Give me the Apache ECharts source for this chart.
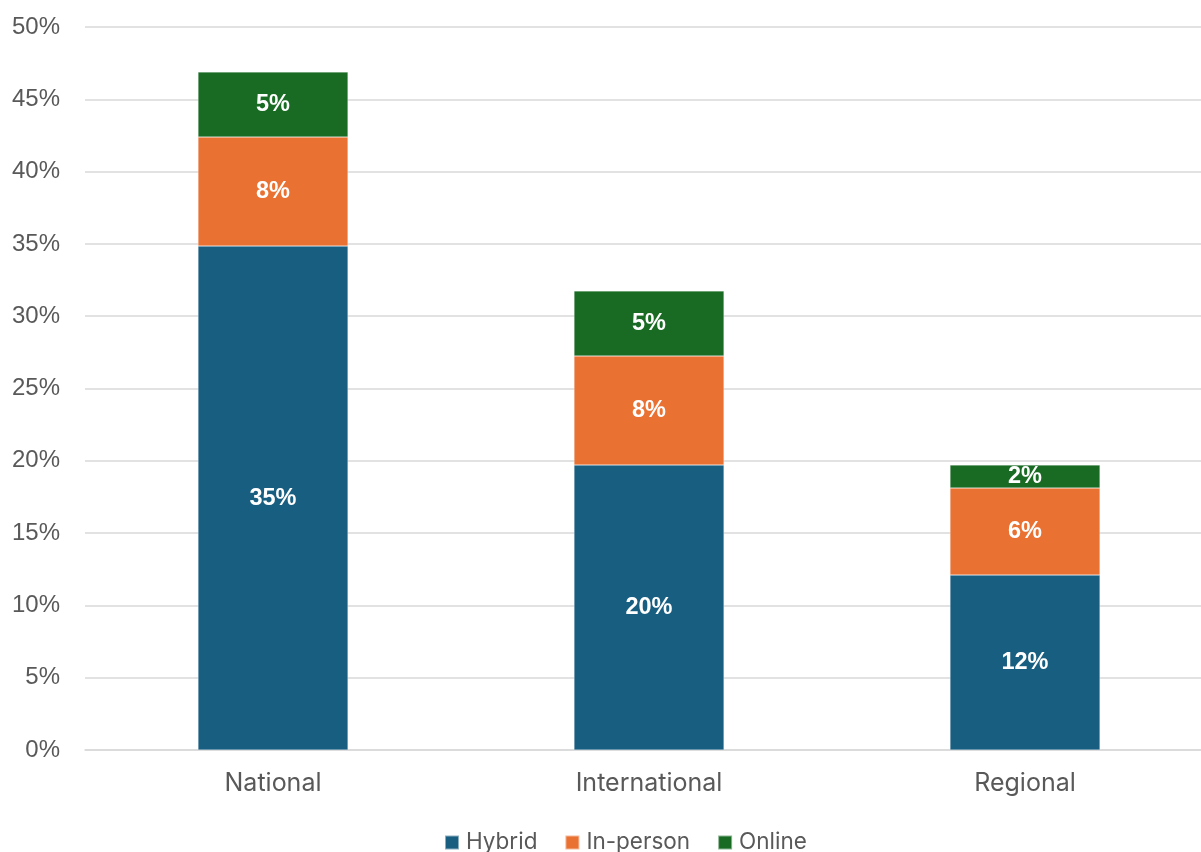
<!DOCTYPE html>
<html>
<head>
<meta charset="utf-8">
<script src="https://cdn.jsdelivr.net/npm/echarts@6/dist/echarts.min.js"></script>
<style>
  html, body { margin: 0; padding: 0; background: #ffffff; overflow: hidden; }
  #chart { width: 1213px; height: 852px; }
</style>
</head>
<body>
<div id="chart"></div>
<script>
// Share of events by format, per scope
const categories = ['National', 'International', 'Regional'];
const hybrid   = [0.3485, 0.1971, 0.1210];
const inPerson = [0.0754, 0.0754, 0.0602];
const online   = [0.0450, 0.0450, 0.0159];
const yTicks = { min: 0, max: 0.5, interval: 0.05 };

const colors = { hybrid: '#185E80', inPerson: '#E97132', online: '#196B24' };

const pct = v => Math.round(v * 100) + '%';

function barSeries(name, data, color) {
  return {
    name: name,
    type: 'bar',
    stack: 'total',
    barWidth: 150,
    data: data,
    itemStyle: { color: color, borderColor: 'rgba(255,255,255,0.5)', borderWidth: 0.5 },
    label: {
      show: true,
      position: 'inside',
      color: '#ffffff',
      fontFamily: 'Liberation Sans',
      fontWeight: 'bold',
      fontSize: 23.5,
      formatter: p => pct(p.value)
    }
  };
}

const chart = echarts.init(document.getElementById('chart'));
chart.setOption({
  animation: false,
  grid: { left: 85, top: 27, right: 0, bottom: 102, containLabel: false },
  legend: {
    top: 826,
    left: 439,
    itemWidth: 14,
    itemHeight: 14,
    itemGap: 27,
    icon: 'rect',
    textStyle: { fontFamily: 'Inter', fontSize: 22.5, color: '#595959', padding: [0, 0, 0, 2] },
    data: ['Hybrid', 'In-person', 'Online']
  },
  xAxis: {
    type: 'category',
    data: categories,
    axisLine: { lineStyle: { color: '#d9d9d9', width: 1.5 } },
    axisTick: { show: false },
    axisLabel: { fontFamily: 'Inter', fontSize: 25, color: '#595959', margin: 21 }
  },
  yAxis: {
    type: 'value',
    min: yTicks.min,
    max: yTicks.max,
    interval: yTicks.interval,
    axisLine: { show: false },
    axisTick: { show: false },
    splitLine: { lineStyle: { color: '#d9d9d9', width: 1.5 } },
    axisLabel: {
      fontFamily: 'Liberation Sans',
      fontSize: 24,
      color: '#595959',
      margin: 25,
      formatter: v => pct(v)
    }
  },
  series: [
    barSeries('Hybrid', hybrid, colors.hybrid),
    barSeries('In-person', inPerson, colors.inPerson),
    barSeries('Online', online, colors.online)
  ]
});
</script>
</body>
</html>
